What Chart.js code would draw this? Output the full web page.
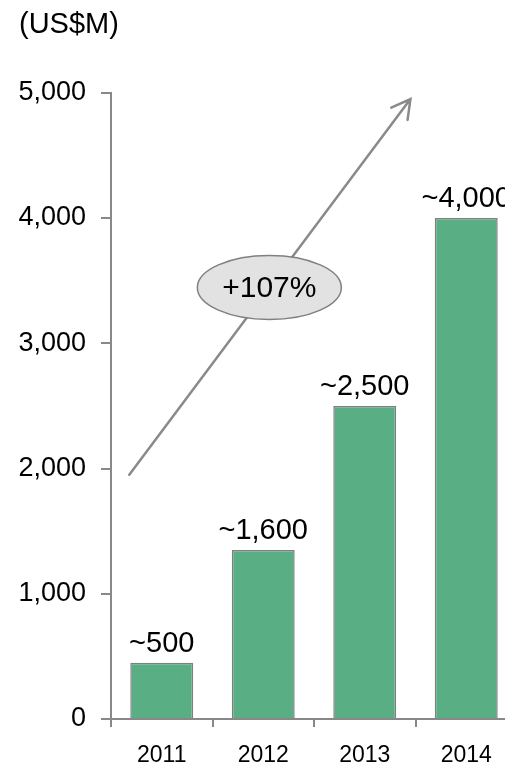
<!DOCTYPE html>
<html><head><meta charset="utf-8">
<script src="https://cdn.jsdelivr.net/npm/chart.js@4/dist/chart.umd.min.js"></script>
<style>html,body{margin:0;padding:0;overflow:hidden;background:#fff}#wrap{width:517px;height:767px}</style>
</head><body><div id="wrap"><canvas id="c" width="517" height="767"></canvas></div>
<script>
const categories = ['2011', '2012', '2013', '2014'];
const revenue = [450, 1350, 2500, 4000];
const valueLabels = ['~500', '~1,600', '~2,500', '~4,000'];
const yTicks = [0, 1000, 2000, 3000, 4000, 5000];
const unitLabel = '(US$M)';
const growthLabel = '+107%';
// annotation anchors in data space: [category index, value]
const growthArrowFrom = [-0.32, 1950];
const growthArrowTo = [2.45, 4950];
const growthBadgeAt = [1.06, 3445];

const FAMILY = '"Liberation Sans", Arial, sans-serif';
const AXIS = '#888888';

const annotate = {
  id: 'annotate',
  afterDatasetsDraw(chart) {
    const {ctx, scales: {x, y}} = chart;
    const meta = chart.getDatasetMeta(0);
    ctx.save();
    ctx.font = '29px ' + FAMILY;
    ctx.fillStyle = '#000';
    ctx.textAlign = 'center';
    ctx.textBaseline = 'alphabetic';
    meta.data.forEach((bar, i) => ctx.fillText(valueLabels[i], bar.x, bar.y - 11));

    // growth arrow
    const x1 = x.getPixelForValue(growthArrowFrom[0]), y1 = y.getPixelForValue(growthArrowFrom[1]);
    const x2 = x.getPixelForValue(growthArrowTo[0]), y2 = y.getPixelForValue(growthArrowTo[1]);
    ctx.strokeStyle = '#8a8a8a';
    ctx.lineWidth = 2.5;
    ctx.lineCap = 'round';
    ctx.beginPath();
    ctx.moveTo(x1, y1); ctx.lineTo(x2, y2);
    const ang = Math.atan2(y1 - y2, x1 - x2);
    const hl = 21, ha = 29 * Math.PI / 180;
    ctx.moveTo(x2 + hl * Math.cos(ang - ha), y2 + hl * Math.sin(ang - ha));
    ctx.lineTo(x2, y2);
    ctx.lineTo(x2 + hl * Math.cos(ang + ha), y2 + hl * Math.sin(ang + ha));
    ctx.stroke();

    // badge
    const cx = x.getPixelForValue(growthBadgeAt[0]), cy = y.getPixelForValue(growthBadgeAt[1]);
    ctx.beginPath();
    ctx.ellipse(cx, cy, 72, 32, 0, 0, Math.PI * 2);
    ctx.fillStyle = '#e2e2e2';
    ctx.fill();
    ctx.lineWidth = 1.5;
    ctx.strokeStyle = '#808080';
    ctx.stroke();
    ctx.fillStyle = '#000';
    ctx.font = '30px ' + FAMILY;
    ctx.textBaseline = 'middle';
    ctx.fillText(growthLabel, cx, cy + 1);
    ctx.restore();
  }
};

new Chart(document.getElementById('c'), {
  type: 'bar',
  data: {
    labels: categories,
    datasets: [{
      data: revenue,
      backgroundColor: '#5aae84',
      borderColor: '#7f7f7f',
      borderWidth: 1.5,
      barPercentage: 0.62,
      categoryPercentage: 1.0
    }]
  },
  options: {
    responsive: false,
    animation: false,
    layout: {padding: {left: 19, right: 0, top: 0, bottom: 0}},
    plugins: {
      legend: {display: false},
      tooltip: {enabled: false},
      title: {
        display: true, text: unitLabel, align: 'start', color: '#000',
        font: {size: 29, weight: 'normal', family: FAMILY},
        padding: {top: 8, bottom: 50}
      }
    },
    scales: {
      x: {
        ticks: {color: '#000', font: {size: 23, family: FAMILY}, padding: 15},
        grid: {offset: true, drawOnChartArea: false, drawTicks: true, tickLength: 8, color: AXIS, lineWidth: 2},
        border: {display: true, color: AXIS, width: 2},
        afterFit: s => { s.height = 48; }
      },
      y: {
        min: 0, max: 5000,
        afterBuildTicks: s => { s.ticks = yTicks.map(v => ({value: v})); },
        ticks: {color: '#000', font: {size: 27, family: FAMILY}, padding: 15,
          callback: v => Number(v).toLocaleString('en-US')},
        grid: {drawOnChartArea: false, drawTicks: true, tickLength: 10, color: AXIS, lineWidth: 2},
        border: {display: true, color: AXIS, width: 2},
        afterFit: s => { s.width = 92; }
      }
    }
  },
  plugins: [annotate]
});
</script>
</body></html>
